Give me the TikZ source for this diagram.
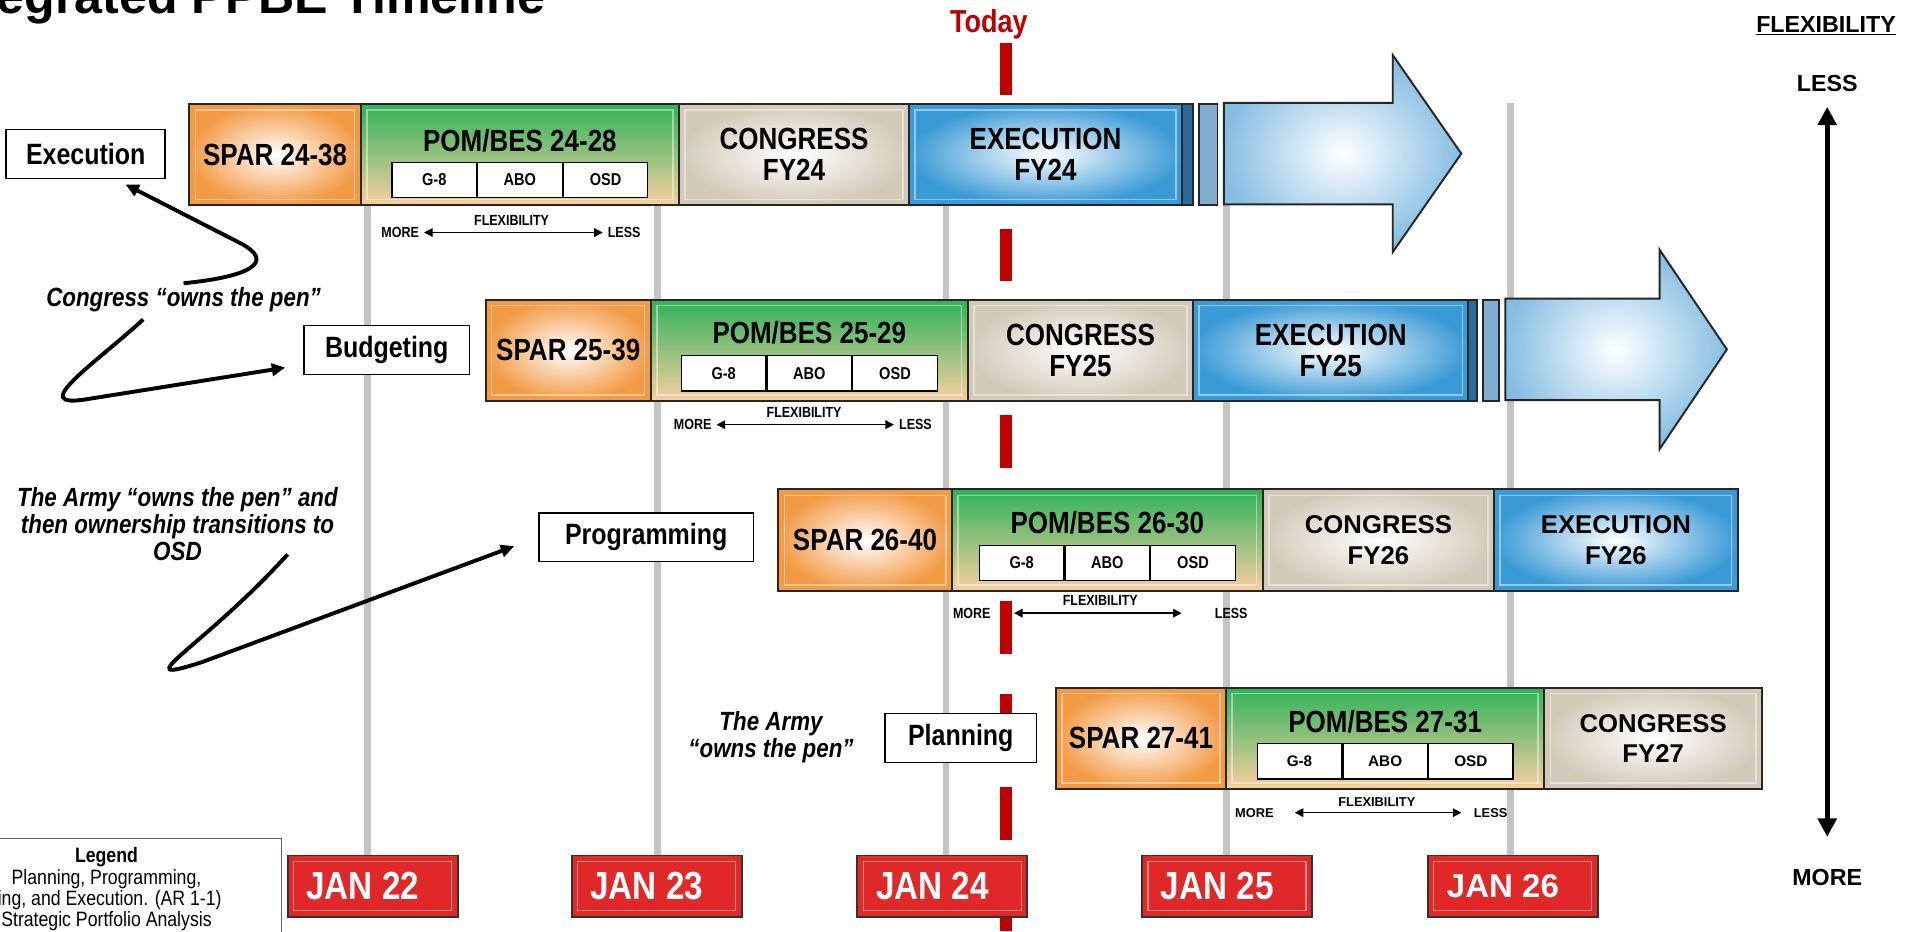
\documentclass[tikz,border=0pt]{standalone}
\usepackage{fontspec}
\setmainfont{Liberation Sans}
\newfontfamily\narrowfont[FakeStretch=0.85]{Liberation Sans}
\usetikzlibrary{arrows.meta,positioning}

\definecolor{sparorange}{HTML}{F39A45}
\definecolor{pomgreen}{HTML}{2EB35A}
\definecolor{pommid}{HTML}{CFEBC2}
\definecolor{pompeach}{HTML}{F8CFA0}
\definecolor{congbeige}{HTML}{D3C9B8}
\definecolor{execblue}{HTML}{3A9AD6}
\definecolor{stripblue}{HTML}{2C6A9A}
\definecolor{sliverblue}{HTML}{7FAED0}
\definecolor{arrowblue}{HTML}{86BEE2}
\definecolor{janred}{HTML}{E02828}
\definecolor{todayred}{HTML}{C00000}
\definecolor{gridgray}{HTML}{C4C4C4}

\newcommand{\fsz}[2]{\fontsize{#1}{#2}\selectfont}

\tikzset{
  bevel/.style={path picture={
      \draw[white, opacity=0.45, line width=1.2pt]
        ([shift={(5pt,-5pt)}]path picture bounding box.north west) rectangle
        ([shift={(-5pt,5pt)}]path picture bounding box.south east);}},
  phase/.style={draw=black!85, line width=1.6pt, minimum height=83pt, inner sep=0pt,
    anchor=north west, align=center, font=\narrowfont\bfseries\fsz{25}{25}, bevel},
  widefont/.style={font=\bfseries\fsz{21}{25}},
  spar/.style={phase, inner color=white, outer color=sparorange},
  pom/.style={phase, top color=pomgreen, middle color=pommid, bottom color=pompeach},
  cong/.style={phase, inner color=white, outer color=congbeige},
  exec/.style={phase, inner color=white, outer color=execblue},
  strip/.style={draw=black!85, line width=1.6pt, minimum height=83pt, inner sep=0pt,
    anchor=north west, fill=stripblue},
  sliver/.style={strip, fill=sliverblue},
  bigarrow/.style={draw=black!85, line width=1.6pt, inner color=white, outer color=arrowblue},
  pomtitle/.style={inner sep=0pt, font=\narrowfont\bfseries\fsz{25}{25}},
  cell/.style={draw=black, line width=1pt, fill=white, minimum width=69pt, minimum height=29pt,
    inner sep=0pt, font=\narrowfont\bfseries\fsz{14}{14}},
  flex/.style={inner xsep=4pt, inner ysep=1pt, font=\narrowfont\bfseries\fsz{12}{12}},
  flexarrow/.style={line width=1.1pt, {Triangle[length=7pt,width=7pt]}-{Triangle[length=7pt,width=7pt]}},
  stage/.style={draw=black, line width=1.2pt, fill=white, minimum height=40pt,
    font=\narrowfont\bfseries\fsz{24}{24}},
  pennote/.style={align=center, font=\narrowfont\bfseries\itshape\fsz{21.5}{22}},
  curly/.style={line width=3.2pt, -{Triangle[length=11pt,width=10pt]}},
  jan/.style={draw=black!80, line width=1.6pt, fill=janred, minimum width=139pt, minimum height=50pt,
    text=white, font=\narrowfont\bfseries\fsz{32}{32}, bevel},
  gridline/.style={draw=gridgray, line width=5.5pt},
  todaytxt/.style={text=todayred, font=\narrowfont\bfseries\fsz{26}{26}},
  todayline/.style={draw=todayred, line width=10pt, dash pattern=on 43pt off 33pt},
  side/.style={font=\bfseries\fsz{19}{20}},
  updown/.style={line width=4pt, {Triangle[length=15pt,width=15pt]}-{Triangle[length=15pt,width=15pt]}},
  legendbox/.style={draw=black!60, line width=0.8pt, fill=white},
  legendline/.style={anchor=base, inner sep=0pt, font=\narrowfont\fsz{17}{18}}
}

\begin{document}
\begin{tikzpicture}[x=1pt,y=-1pt]
  \useasboundingbox (0,0) rectangle (1568,761);
  \clip (0,0) rectangle (1568,761);

  \node[anchor=base west, inner sep=0pt, font=\bfseries\fsz{41}{43}] (title) at (-3,11) {egrated PPBE Timeline};

  % year lines and today
  \draw[gridline] (300,84) -- (300,699);
  \draw[gridline] (537,84) -- (537,699);
  \draw[gridline] (773,84) -- (773,699);
  \draw[gridline] (1002,84) -- (1002,699);
  \draw[gridline] (1234,84) -- (1234,699);
  \node[todaytxt] (today) at (808,20) {Today};
  \draw[todayline] (822,35) -- (822,761);

  % execution row
  \node[spar, minimum width=140pt] (spar24) at (154,84) {SPAR 24-38};
  \node[pom, minimum width=260pt] (pom24) at (294,84) {};
  \node[pomtitle] (pomt24) at ([yshift=-31pt]pom24.north) {POM/BES 24-28};
  \node[cell, anchor=north] (abo24) at ([yshift=-48pt]pom24.north) {ABO};
  \node[cell, left=0pt of abo24] (g824) {G-8};
  \node[cell, right=0pt of abo24] (osd24) {OSD};
  \node[cong, minimum width=188pt] (cong24) at (554,84) {CONGRESS\\FY24};
  \node[exec, minimum width=223pt] (exe24) at (742,84) {EXECUTION\\FY24};
  \node[strip, minimum width=9pt] (strip24) at (965,84) {};
  \node[sliver, minimum width=15pt] (sliver24) at (979,84) {};
  \draw[bigarrow] (1000,84) -- (1138,84) -- (1138,45) -- (1194,125.5) -- (1138,206) -- (1138,167) -- (1000,167) -- cycle;
  \node[flex] (more24) at (327,190) {MORE};
  \node[flex] (less24) at (510,190) {LESS};
  \node[flex] (flex24) at (418,180) {FLEXIBILITY};
  \draw[flexarrow] (more24) -- (less24);

  % budgeting row
  \node[spar, minimum width=135pt] (spar25) at (396,244) {SPAR 25-39};
  \node[pom, minimum width=259pt] (pom25) at (531,244) {};
  \node[pomtitle] (pomt25) at ([yshift=-28pt]pom25.north) {POM/BES 25-29};
  \node[cell, anchor=north] (abo25) at ([yshift=-46pt]pom25.north) {ABO};
  \node[cell, left=0pt of abo25] (g825) {G-8};
  \node[cell, right=0pt of abo25] (osd25) {OSD};
  \node[cong, minimum width=184pt] (cong25) at (790,244) {CONGRESS\\FY25};
  \node[exec, minimum width=225pt] (exe25) at (974,244) {EXECUTION\\FY25};
  \node[strip, minimum width=7pt] (strip25) at (1199,244) {};
  \node[sliver, minimum width=13pt] (sliver25) at (1211,244) {};
  \draw[bigarrow] (1230,244) -- (1356,244) -- (1356,204) -- (1411,285.5) -- (1356,367) -- (1356,327) -- (1230,327) -- cycle;
  \node[flex] (more25) at (566,347) {MORE};
  \node[flex] (less25) at (748,347) {LESS};
  \node[flex] (flex25) at (657,337) {FLEXIBILITY};
  \draw[flexarrow] (more25) -- (less25);

  % programming row
  \node[spar, minimum width=142pt] (spar26) at (635,399) {SPAR 26-40};
  \node[pom, minimum width=254pt] (pom26) at (777,399) {};
  \node[pomtitle] (pomt26) at ([yshift=-28pt]pom26.north) {POM/BES 26-30};
  \node[cell, anchor=north] (abo26) at ([yshift=-46pt]pom26.north) {ABO};
  \node[cell, left=0pt of abo26] (g826) {G-8};
  \node[cell, right=0pt of abo26] (osd26) {OSD};
  \node[cong, widefont, minimum width=189pt] (cong26) at (1031,399) {CONGRESS\\FY26};
  \node[exec, widefont, minimum width=199pt] (exe26) at (1220,399) {EXECUTION\\FY26};
  \node[flex] (more26) at (794,501) {MORE};
  \node[flex] (less26) at (1006,501) {LESS};
  \node[flex] (flex26) at (899,491) {FLEXIBILITY};
  \draw[flexarrow, shorten <=15pt, shorten >=23pt] (more26) -- (less26);

  % planning row
  \node[spar, minimum width=139pt] (spar27) at (862,561) {SPAR 27-41};
  \node[pom, minimum width=260pt] (pom27) at (1001,561) {};
  \node[pomtitle] (pomt27) at ([yshift=-29pt]pom27.north) {POM/BES 27-31};
  \node[cell, anchor=north, font=\bfseries\fsz{12.5}{13}] (abo27) at ([yshift=-46pt]pom27.north) {ABO};
  \node[cell, left=0pt of abo27, font=\bfseries\fsz{12.5}{13}] (g827) {G-8};
  \node[cell, right=0pt of abo27, font=\bfseries\fsz{12.5}{13}] (osd27) {OSD};
  \node[cong, widefont, minimum width=178pt] (cong27) at (1261,561) {CONGRESS\\FY27};
  \node[flex, font=\bfseries\fsz{10.5}{11}] (more27) at (1025,664) {MORE};
  \node[flex, font=\bfseries\fsz{10.5}{11}] (less27) at (1218,664) {LESS};
  \node[flex, font=\bfseries\fsz{10.5}{11}] (flex27) at (1125,655) {FLEXIBILITY};
  \draw[flexarrow, shorten <=13pt, shorten >=6pt] (more27) -- (less27);

  % phase labels and notes
  \node[stage, minimum width=130pt] (exe) at (70,126) {Execution};
  \node[stage, minimum width=135pt] (budg) at (316,286) {Budgeting};
  \node[stage, minimum width=175pt] (prog) at (528,439) {Programming};
  \node[stage, minimum width=124pt] (plan) at (785,603) {Planning};
  \node[pennote] (congnote) at (150,245) {Congress “owns the pen”};
  \node[pennote] (armynote) at (145,428) {The Army “owns the pen” and\\then ownership transitions to\\OSD};
  \node[pennote] (plannote) at (630,602) {The Army\\“owns the pen”};

  \coordinate (tail2) at (117,261);
  \coordinate (tail3) at (235,453);
  \draw[curly, shorten >=9pt] (congnote.north) .. controls (205,226) and (225,214) .. (197,199) -- (exe.-40);
  \draw[curly, shorten >=15pt] (tail2) .. controls (78,297) and (20,335) .. (72,326) -- (budg.-170);
  \draw[curly, shorten >=21pt] (tail3) .. controls (165,530) and (100,562) .. (165,541) -- (prog.west);

  % dates
  \node[jan] (jan22) at (304.5,724) {JAN 22\kern16pt};
  \node[jan] (jan23) at (536.5,724) {JAN 23\kern16pt};
  \node[jan] (jan24) at (770,724) {JAN 24\kern16pt};
  \node[jan] (jan25) at (1002.5,724) {JAN 25\kern16pt};
  \node[jan, font=\bfseries\fsz{27}{27}] (jan26) at (1236,724) {JAN 26\kern16pt};

  % flexibility scale
  \node[side] (flexR) at (1492,21) {\underline{FLEXIBILITY}};
  \node[side] (lessR) at (1493,68) {LESS};
  \node[side] (moreR) at (1493,717) {MORE};
  \draw[updown, shorten <=9pt, shorten >=23pt] (lessR) -- (moreR);

  % legend
  \node[legendbox, anchor=north east, minimum width=260pt, minimum height=90pt] (legend) at (230,684.5) {};
  \node[font=\narrowfont\bfseries\fsz{17}{18}] (legtitle) at (87,700) {Legend};
  \node[legendline] (leg1) at (87,723) {Planning, Programming,};
  \node[legendline, anchor=base west] (leg2) at (-2,740) {ing, and Execution. (AR 1-1)};
  \node[legendline] (leg3) at (87,757) {Strategic Portfolio Analysis};
\end{tikzpicture}
\end{document}
